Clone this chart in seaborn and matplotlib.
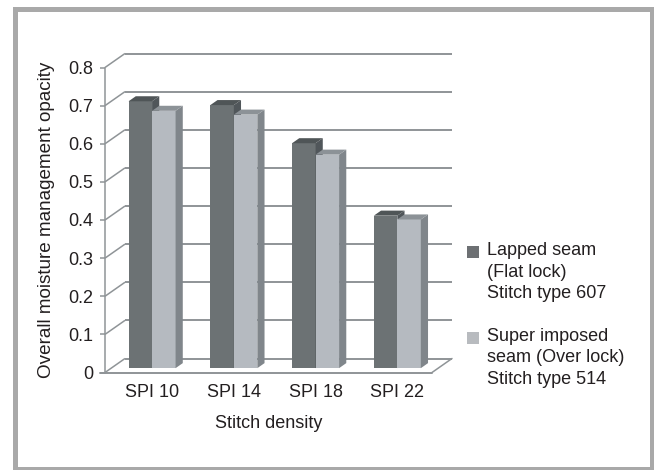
import numpy as np
import pandas as pd
import matplotlib
matplotlib.use("Agg")
import matplotlib.pyplot as plt
from matplotlib.patches import Polygon, Patch, Rectangle
from matplotlib.transforms import Affine2D
import seaborn as sns

# ---- data -------------------------------------------------------------
categories = ["SPI 10", "SPI 14", "SPI 18", "SPI 22"]
lapped_seam = [0.70, 0.69, 0.59, 0.40]
super_imposed_seam = [0.675, 0.665, 0.56, 0.39]
series_labels = [
    "Lapped seam\n(Flat lock)\nStitch type 607",
    "Super imposed\nseam (Over lock)\nStitch type 514",
]
y_ticks = [0, 0.1, 0.2, 0.3, 0.4, 0.5, 0.6, 0.7, 0.8]
y_tick_labels = ["0", "0.1", "0.2", "0.3", "0.4", "0.5", "0.6", "0.7", "0.8"]

df = pd.DataFrame({
    "Stitch density": categories * 2,
    "value": lapped_seam + super_imposed_seam,
    "series": [series_labels[0]] * len(categories) + [series_labels[1]] * len(categories),
})

# ---- styling ------------------------------------------------------------
front_colors = ["#6c7274", "#b5bac0"]
top_colors = ["#4f5557", "#8c9297"]
side_colors = ["#50565a", "#80868b"]
legend_colors = ["#6d7073", "#b8bbbf"]
grid_color = "#8f9497"
text_color = "#231f20"

sns.set_theme(style="white")
plt.rcParams["font.family"] = ["Liberation Sans", "DejaVu Sans"]
plt.rcParams["text.color"] = text_color
plt.rcParams["axes.labelcolor"] = text_color
plt.rcParams["xtick.color"] = text_color
plt.rcParams["ytick.color"] = text_color

W, H = 654, 470
fig = plt.figure(figsize=(W / 100, H / 100), dpi=100)
fig.patch.set_facecolor("white")

# front plane of the 3-D box
ax_l, ax_r, ax_t, ax_b = 105, 432, 67.5, 372.5
ax = fig.add_axes([ax_l / W, 1 - ax_b / H, (ax_r - ax_l) / W, (ax_b - ax_t) / H])

sns.barplot(
    data=df, x="Stitch density", y="value", hue="series",
    palette=front_colors, width=0.575, gap=0, linewidth=0,
    saturation=1, errorbar=None, legend=False, ax=ax,
)

ax.set_xlim(-0.5, len(categories) - 0.5)
ax.set_ylim(0, 0.8)
ax.set_facecolor("none")

# depth vector (one full unit of depth) in data coordinates
x_per_px = (len(categories)) / (ax_r - ax_l)
y_per_px = 0.8 / (ax_b - ax_t)
depth_dx = 20 * x_per_px
depth_dy = 14 * y_per_px

bar_front = 0.31   # fraction of floor depth where bar fronts sit
bar_depth = 0.36   # fraction of floor depth occupied by a bar

lw = 1.1
# back wall gridlines and left wall diagonals
x0, x1 = -0.5, len(categories) - 0.5
for v in y_ticks:
    ax.plot([x0, x0 + depth_dx], [v, v + depth_dy], color=grid_color, lw=lw,
            clip_on=False, zorder=1, solid_capstyle="butt")
    ax.plot([x0 + depth_dx, x1 + depth_dx], [v + depth_dy, v + depth_dy],
            color=grid_color, lw=lw + 0.3, clip_on=False, zorder=1,
            solid_capstyle="butt")
# floor front edge and right edge
ax.plot([x0 - 0.06, x1], [0, 0], color=grid_color, lw=lw + 0.3, clip_on=False, zorder=1)
ax.plot([x1, x1 + depth_dx], [0, depth_dy], color=grid_color, lw=lw, clip_on=False, zorder=1)

# extrude the seaborn bars into boxes
shift = Affine2D().translate(bar_front * depth_dx, bar_front * depth_dy) + ax.transData
bdx, bdy = bar_depth * depth_dx, bar_depth * depth_dy
n = len(categories)
for i, bar in enumerate(list(ax.patches)):
    s = i // n
    bx0 = bar.get_x()
    bx1 = bx0 + bar.get_width()
    h = bar.get_height()
    bar.set_transform(shift)
    bar.set_zorder(3 + s)
    bar.set_clip_on(False)
    side = Polygon([(bx1, 0), (bx1 + bdx, bdy), (bx1 + bdx, h + bdy), (bx1, h)],
                   closed=True, facecolor=side_colors[s], edgecolor="none",
                   transform=shift, zorder=3 + s, clip_on=False)
    top = Polygon([(bx0, h), (bx1, h), (bx1 + bdx, h + bdy), (bx0 + bdx, h + bdy)],
                  closed=True, facecolor=top_colors[s], edgecolor="none",
                  transform=shift, zorder=3 + s, clip_on=False)
    ax.add_patch(side)
    ax.add_patch(top)

# axes decoration
for name in ["top", "right", "bottom"]:
    ax.spines[name].set_visible(False)
ax.spines["left"].set_color(grid_color)
ax.spines["left"].set_linewidth(lw)
ax.spines["left"].set_zorder(1)

ax.set_yticks(y_ticks)
ax.set_yticklabels(y_tick_labels, fontsize=13)
ax.tick_params(axis="y", length=3.6, width=lw, color=grid_color, pad=5, left=True)
ax.set_xticks(np.arange(n) + bar_front * depth_dx)
ax.set_xticklabels(categories, fontsize=13)
ax.tick_params(axis="x", length=0, pad=8)

ax.set_xlabel("Stitch density", fontsize=13, labelpad=10)
ax.set_ylabel("Overall moisture management opacity", fontsize=13.6, labelpad=9)

# legend: text entries with placeholder handles; the swatches are placed
# beside the first line of each entry afterwards
placeholders = [Patch(facecolor="none", edgecolor="none") for _ in legend_colors]
leg = fig.legend(handles=placeholders, labels=series_labels, loc="upper left",
                 bbox_to_anchor=(466 / W, 1 - 242 / H), bbox_transform=fig.transFigure,
                 frameon=False, fontsize=13, handlelength=0.7, handleheight=0.7,
                 handletextpad=0.45, labelspacing=1.43, borderaxespad=0, borderpad=0)
for t in leg.get_texts():
    t.set_linespacing(1.35)

fig.canvas.draw()
renderer = fig.canvas.get_renderer()
sq = 12  # swatch size in pixels
for t, c in zip(leg.get_texts(), legend_colors):
    bb = t.get_window_extent(renderer)
    n_lines = t.get_text().count("\n") + 1
    line_h = bb.height / n_lines
    cy = bb.y1 - line_h / 2
    fig.patches.append(Rectangle(((bb.x0 - 8 - sq) / W, (cy - sq / 2) / H), sq / W, sq / H,
                                 transform=fig.transFigure, facecolor=c,
                                 edgecolor="none"))

# outer frame
fig.patches.append(Rectangle((15 / W, 1 - 469 / H), (652 - 15) / W, (469 - 8.5) / H,
                             transform=fig.transFigure, fill=False,
                             edgecolor="#a9a9a9", lw=3.6, zorder=0))

fig.savefig("out.png", dpi=100)
